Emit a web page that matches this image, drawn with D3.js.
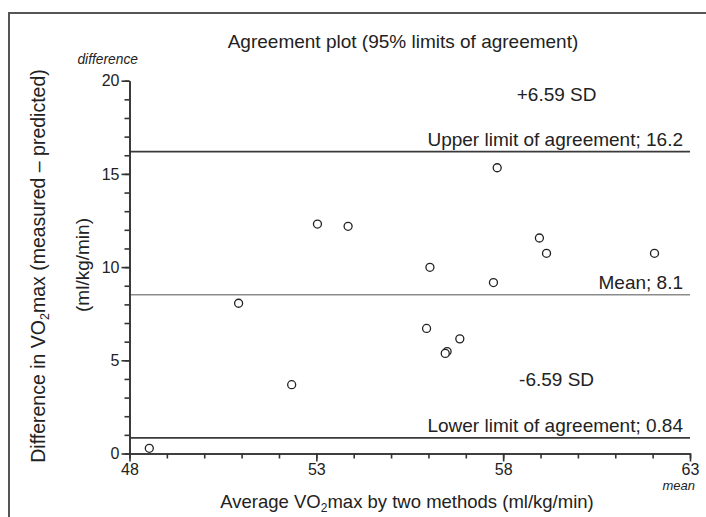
<!DOCTYPE html>
<html>
<head>
  <meta charset="UTF-8">
  <title>Agreement plot</title>
  <script src="https://d3js.org/d3.v7.min.js"></script>
  <style>
    body { margin: 0; background: #fff; }
    text { font-family: "Liberation Sans", Arial, sans-serif; fill: #222; }
  </style>
</head>
<body>
    <svg></svg>

    <script>
        // average of the two methods (x) and measured - predicted (y)
        let meanVals = [57.84, 53.03, 53.85, 58.97, 59.16, 62.05, 56.04, 57.74, 50.92, 55.95, 56.84, 56.50, 56.45, 52.34, 48.53];
        let diffVals = [15.33, 12.31, 12.19, 11.56, 10.74, 10.74, 9.99, 9.17, 8.06, 6.71, 6.15, 5.47, 5.37, 3.69, 0.28];

        let refNames = ["upper", "mean", "lower"];
        let refValues = [16.2, 8.52, 0.84];
        let refLabels = ["Upper limit of agreement; 16.2", "Mean; 8.1", "Lower limit of agreement; 0.84"];

        let xTicks = [48, 53, 58, 63];
        let yTicks = [0, 5, 10, 15, 20];

        let width = 706, height = 517;
        let svg = d3.select("svg")
            .attr("width", width)
            .attr("height", height);

        let x = d3.scaleLinear().domain([48, 63]).range([129.5, 690]);
        let y = d3.scaleLinear().domain([0, 20]).range([453.5, 80.7]);

        // outer frame
        svg.append("rect")
            .attr("x", 9).attr("y", 13)
            .attr("width", 720).attr("height", 520)
            .attr("fill", "none")
            .attr("stroke", "#555").attr("stroke-width", 2);

        // reference lines
        svg.append("g")
            .selectAll("line")
            .data(refValues)
            .enter()
            .append("line")
            .attr("x1", x(48)).attr("x2", x(63))
            .attr("y1", d => y(d)).attr("y2", d => y(d))
            .attr("stroke", (d, i) => refNames[i] == "mean" ? "#8c8c8c" : "#3a3a3a")
            .attr("stroke-width", (d, i) => refNames[i] == "mean" ? 1.4 : 1.8);

        svg.append("g")
            .selectAll("text")
            .data(refValues)
            .enter()
            .append("text")
            .attr("x", x(63) - 7)
            .attr("y", d => y(d) - 6)
            .attr("text-anchor", "end")
            .style("font-size", "19px")
            .text((d, i) => refLabels[i]);

        // axes, minor ticks every unit
        function styleAxis(g) {
            g.selectAll("path, line").attr("stroke", "#333").attr("stroke-width", 1.6);
            g.selectAll("text").style("font-size", "16px").attr("fill", "#222")
                .style("font-family", "'Liberation Sans', Arial, sans-serif");
        }
        svg.append("g")
            .attr("transform", "translate(0," + y(0) + ")")
            .call(d3.axisBottom(x).tickValues(d3.range(48, 64, 1)).tickSize(5).tickSizeOuter(0).tickFormat(""))
            .call(styleAxis);
        svg.append("g")
            .attr("transform", "translate(0," + y(0) + ")")
            .call(d3.axisBottom(x).tickValues(xTicks).tickSize(8).tickSizeOuter(0).tickPadding(2))
            .call(styleAxis);

        svg.append("g")
            .attr("transform", "translate(" + x(48) + ",0)")
            .call(d3.axisLeft(y).tickValues(d3.range(0, 21, 1)).tickSize(5).tickSizeOuter(0).tickFormat(""))
            .call(styleAxis);
        svg.append("g")
            .attr("transform", "translate(" + x(48) + ",0)")
            .call(d3.axisLeft(y).tickValues(yTicks).tickSize(8).tickSizeOuter(0).tickPadding(2))
            .call(styleAxis);

        // points
        svg.append("g")
            .selectAll("circle")
            .data(meanVals)
            .enter()
            .append("circle")
            .attr("cx", d => x(d))
            .attr("cy", (d, i) => y(diffVals[i]))
            .attr("r", 4)
            .attr("fill", "white")
            .attr("stroke", "#222")
            .attr("stroke-width", 1.3);

        // titles and labels
        svg.append("text")
            .attr("x", 403).attr("y", 48)
            .attr("text-anchor", "middle")
            .style("font-size", "19px")
            .text("Agreement plot (95% limits of agreement)");

        svg.append("text")
            .attr("x", 138).attr("y", 64)
            .attr("text-anchor", "end")
            .style("font-size", "13.8px").style("font-style", "italic")
            .text("difference");

        svg.append("text")
            .attr("x", 695).attr("y", 490)
            .attr("text-anchor", "end")
            .style("font-size", "13px").style("font-style", "italic")
            .text("mean");

        svg.append("text")
            .attr("x", x(59.43)).attr("y", y(18.9))
            .attr("text-anchor", "middle")
            .style("font-size", "19px")
            .text("+6.59 SD");

        svg.append("text")
            .attr("x", x(59.43)).attr("y", y(3.6))
            .attr("text-anchor", "middle")
            .style("font-size", "19px")
            .text("-6.59 SD");

        let xl = svg.append("text")
            .attr("x", 407).attr("y", 508)
            .attr("text-anchor", "middle")
            .style("font-size", "18.5px");
        xl.append("tspan").text("Average VO");
        xl.append("tspan").attr("dy", 4).style("font-size", "12px").text("2");
        xl.append("tspan").attr("dy", -4).text("max by two methods (ml/kg/min)");

        let yl = svg.append("text")
            .attr("transform", "translate(45,266) rotate(-90)")
            .attr("text-anchor", "middle")
            .style("font-size", "19.5px");
        yl.append("tspan").text("Difference in VO");
        yl.append("tspan").attr("dy", 4).style("font-size", "12.5px").text("2");
        yl.append("tspan").attr("dy", -4).text("max (measured \u2013 predicted)");

        svg.append("text")
            .attr("transform", "translate(89,265) rotate(-90)")
            .attr("text-anchor", "middle")
            .style("font-size", "19px")
            .text("(ml/kg/min)");
    </script>

</body>
</html>
